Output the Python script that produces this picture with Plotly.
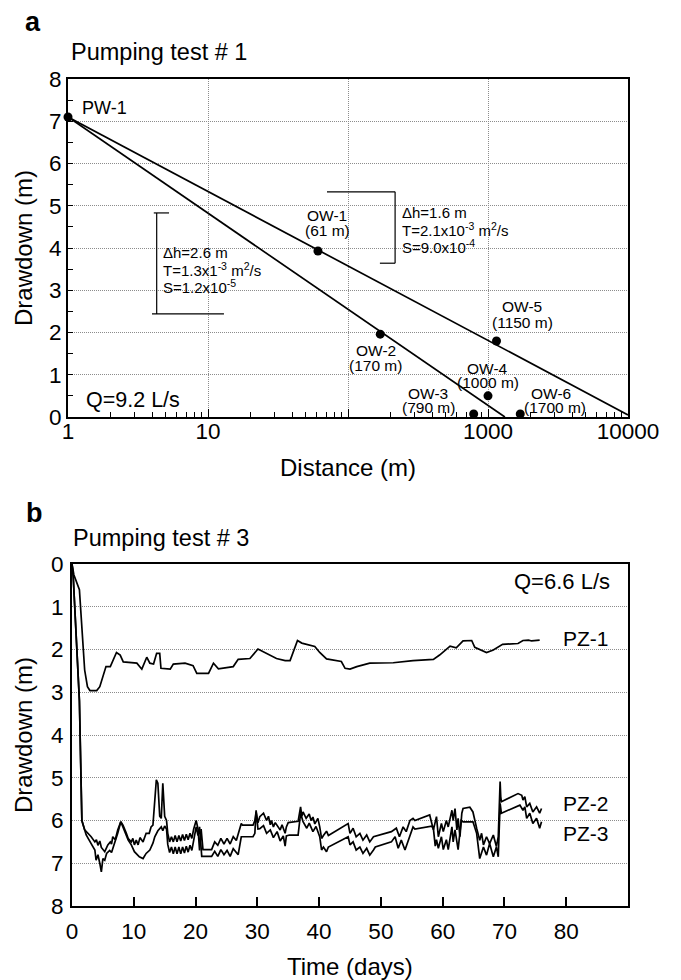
import plotly.graph_objects as go

# page geometry: the html body has an 8px margin, so the figure is placed at (8, 8)
PAGE_W, PAGE_H = 681, 980
OFF = 8
W, H = PAGE_W - OFF, PAGE_H - OFF
FONT = "Liberation Sans, Arial, sans-serif"

# ---------------- Panel a data ----------------
wells = ["PW-1", "OW-1", "OW-2", "OW-3", "OW-4", "OW-5", "OW-6"]
well_dist = [1, 61, 170, 790, 1000, 1150, 1700]
well_dd = [7.1, 3.93, 1.96, 0.07, 0.5, 1.80, 0.07]

fit_upper_x = [1, 10000]
fit_upper_y = [7.1, 0.05]
fit_lower_x = [1, 1320]
fit_lower_y = [7.1, 0.0]

bracket_left_x = [4.1, 5.27, None, 4.3, 4.3, None, 3.98, 13.0]
bracket_left_y = [4.83, 4.83, None, 4.83, 2.44, None, 2.44, 2.44]
bracket_right_x = [70.8, 217, None, 217, 217, None, 169, 217]
bracket_right_y = [5.33, 5.33, None, 5.33, 3.64, None, 3.64, 3.64]

x_tickvals_a = [1, 10, 100, 1000, 10000]
x_ticktext_a = ["1", "10", "", "1000", "10000"]
x_minor_a = [m * 10 ** d for d in range(4) for m in range(2, 10)]

# ---------------- Panel b data ----------------
pz1_day = [0, 0.3, 1.2, 2.05, 2.5, 2.9, 4.0, 4.5, 5.5, 6.2, 7.2, 7.8, 8.3, 9.9, 10.5, 11.3,
           12.1, 12.6, 13.2, 13.7, 14.2, 14.4, 15.9, 16.4, 18.3, 19.6, 20.2, 22.1, 22.9,
           23.7, 26.1, 26.9, 28.8, 30.1, 30.9, 31.7, 33.1, 34.5, 35.3, 36.5, 37.2, 39.3,
           40.1, 41.2, 43.6, 44.2, 45.0, 46.1, 48.2, 52.0, 55.2, 58.5, 59.5, 61.2, 62.2,
           63.3, 64.7, 65.2, 67.1, 68.2, 69.7, 72.2, 73.0, 73.9, 74.4, 75.7]
pz1_dd = [0, 0.25, 0.6, 2.48, 2.87, 2.96, 2.96, 2.87, 2.40, 2.40, 2.07, 2.13, 2.29, 2.30,
          2.32, 2.46, 2.18, 2.32, 2.34, 2.09, 2.09, 2.44, 2.46, 2.34, 2.32, 2.38, 2.56,
          2.56, 2.32, 2.45, 2.40, 2.23, 2.21, 1.99, 2.05, 2.10, 2.21, 2.26, 2.26, 1.79,
          1.85, 1.93, 2.07, 2.22, 2.28, 2.44, 2.46, 2.40, 2.32, 2.31, 2.26, 2.23, 2.13,
          1.92, 1.96, 1.80, 1.79, 1.95, 2.07, 2.01, 1.88, 1.86, 1.79, 1.78, 1.80, 1.78]

pz2_day = [0, 0.2, 1.2, 1.6, 2.05, 2.6, 3.1, 3.7, 3.95, 4.2, 4.5, 4.75, 5.3, 5.8, 6.2, 6.4,
           6.6, 7.0, 7.4, 7.9, 8.25, 8.8, 9.1, 9.6, 9.85, 10.1, 10.4, 10.7, 11.0, 11.5,
           12.0, 12.5, 12.8, 13.1, 13.4, 13.65, 13.9, 14.2, 14.45, 14.7, 15.0, 15.3, 15.5,
           15.8, 16.1, 16.4, 16.7, 17.0, 17.3, 17.6, 17.9, 18.2, 18.5, 18.8, 19.1, 19.4,
           19.7, 20.1, 20.4, 20.65, 20.9, 21.2, 22.6, 23.1, 23.6, 24.1, 24.6, 25.1, 25.6,
           26.1, 26.6, 27.4, 27.6, 29.3, 29.6, 29.8, 30.1, 30.4, 31.0, 31.5, 31.8, 32.1,
           32.3, 32.6, 32.9, 33.4, 33.7, 34.0, 34.5, 34.7, 35.0, 36.6, 37.0, 37.2, 37.4,
           37.9, 38.4, 38.7, 39.0, 39.3, 39.8, 40.1, 40.4, 40.7, 41.2, 41.5, 44.7, 45.0,
           45.5, 46.0, 46.6, 47.1, 47.7, 48.2, 48.8, 51.7, 52.5, 53.0, 53.6, 54.1, 54.7,
           55.2, 55.5, 57.9, 58.5, 59.0, 59.3, 59.8, 60.1, 60.6, 60.9, 61.5, 61.7, 62.0,
           62.3, 62.5, 62.8, 63.1, 63.3, 64.4, 64.9, 65.5, 66.0, 66.3, 66.6, 67.1, 67.6,
           68.2, 68.7, 69.0, 69.3, 69.4, 69.5, 72.2, 72.8, 73.0, 73.3, 73.6, 74.1, 74.6,
           75.2, 75.7, 76.0]
pz2_dd = [0, 0.3, 3.2, 6.0, 6.22, 6.3, 6.38, 6.5, 6.45, 6.58, 6.48, 6.63, 6.73, 6.57, 6.5,
          6.55, 6.38, 6.45, 6.22, 6.03, 6.11, 6.30, 6.42, 6.5, 6.42, 6.57, 6.46, 6.57, 6.4,
          6.5, 6.3, 6.3, 6.15, 6.11, 5.6, 5.05, 5.13, 5.9, 5.95, 5.13, 5.9, 6.0, 6.3, 6.5,
          6.38, 6.5, 6.35, 6.5, 6.35, 6.48, 6.33, 6.47, 6.32, 6.45, 6.3, 6.42, 6.2, 6.0,
          6.2, 6.7, 6.2, 6.68, 6.68, 6.5, 6.58, 6.42, 6.55, 6.42, 6.55, 6.38, 6.47, 6.07,
          6.11, 6.11, 6.0, 5.8, 6.05, 5.91, 5.83, 6.0, 5.9, 6.1, 6.0, 6.15, 6.05, 6.15,
          6.22, 6.1, 6.3, 6.15, 6.05, 6.02, 5.68, 5.9, 5.8, 5.95, 5.85, 6.0, 5.92, 6.08,
          5.95, 6.15, 6.42, 6.35, 6.25, 6.35, 6.07, 6.3, 6.18, 6.38, 6.3, 6.46, 6.34, 6.5,
          6.38, 6.26, 6.18, 6.38, 6.15, 6.26, 6.0, 5.95, 6.0, 5.87, 6.22, 5.91, 6.38, 6.07,
          6.26, 6.0, 6.15, 5.76, 6.0, 5.72, 6.22, 5.95, 6.38, 5.83, 5.72, 5.69, 5.8, 6.18,
          6.46, 6.3, 6.57, 6.38, 6.54, 6.34, 6.61, 6.38, 5.09, 5.44, 5.56, 5.37, 5.41,
          5.52, 5.44, 5.68, 5.6, 5.8, 5.68, 5.83, 5.72]

pz3_day = [0, 0.2, 1.2, 1.6, 1.8, 2.3, 3.1, 3.7, 3.9, 4.2, 4.5, 4.75, 5.0, 5.3, 5.6, 6.1,
           6.4, 6.9, 7.4, 7.9, 8.5, 9.1, 9.6, 10.1, 10.9, 11.5, 12.0, 12.6, 13.1, 13.4,
           13.9, 14.45, 14.7, 15.0, 15.3, 15.5, 15.8, 16.1, 16.4, 16.7, 17.0, 17.3, 17.6,
           17.9, 18.2, 18.5, 18.8, 19.1, 19.4, 19.7, 20.1, 20.4, 20.65, 21.0, 22.6, 23.1,
           23.6, 24.1, 24.6, 25.1, 25.6, 26.1, 26.9, 27.4, 29.3, 29.6, 29.8, 30.1, 30.4,
           31.0, 31.5, 32.1, 32.6, 33.2, 33.7, 34.2, 34.5, 34.7, 35.2, 36.6, 37.0, 37.4,
           38.0, 38.4, 39.0, 39.5, 40.1, 40.4, 40.7, 41.2, 41.5, 44.7, 45.0, 45.5, 46.0,
           46.6, 47.1, 47.7, 48.2, 48.8, 49.1, 51.7, 52.3, 52.8, 53.3, 53.9, 54.4, 54.9,
           55.2, 55.5, 58.2, 58.5, 58.8, 59.0, 59.3, 59.8, 60.1, 60.6, 60.9, 61.5, 61.7,
           62.0, 62.5, 63.0, 63.3, 64.9, 65.5, 66.0, 66.6, 67.1, 67.6, 68.2, 68.7, 69.0,
           69.3, 69.5, 72.5, 73.0, 73.3, 73.6, 74.1, 74.6, 75.2, 75.7, 76.0]
pz3_dd = [0, 0.3, 3.2, 6.0, 6.1, 6.34, 6.54, 6.69, 6.93, 6.8, 7.0, 7.20, 6.89, 6.93, 6.77,
          6.7, 6.75, 6.55, 6.3, 6.03, 6.27, 6.46, 6.57, 6.73, 6.85, 6.89, 6.77, 6.69,
          6.53, 6.38, 6.24, 6.15, 6.24, 6.13, 6.2, 6.56, 6.75, 6.62, 6.78, 6.62, 6.78,
          6.62, 6.78, 6.62, 6.76, 6.6, 6.74, 6.58, 6.7, 6.42, 6.15, 6.35, 6.15, 6.84,
          6.84, 6.72, 6.84, 6.68, 6.8, 6.7, 6.84, 6.66, 6.8, 6.38, 6.38, 6.3, 5.76, 6.2,
          6.19, 6.12, 6.3, 6.22, 6.4, 6.26, 6.48, 6.36, 6.6, 6.36, 6.34, 6.34, 5.83, 6.03,
          6.18, 6.06, 6.26, 6.14, 6.38, 6.69, 6.62, 6.73, 6.62, 6.38, 6.57, 6.5, 6.69,
          6.62, 6.77, 6.65, 6.81, 6.69, 6.62, 6.5, 6.38, 6.65, 6.46, 6.69, 6.5, 6.3, 6.15,
          6.2, 6.13, 6.19, 6.6, 6.45, 6.65, 6.38, 6.68, 6.45, 6.68, 6.15, 6.5, 6.22, 6.68,
          6.0, 6.03, 6.03, 6.3, 6.89, 6.62, 6.81, 6.54, 6.85, 6.62, 6.85, 5.6, 5.83, 5.64,
          5.76, 5.68, 5.95, 5.83, 6.07, 5.95, 6.18, 6.03]

x_tickvals_b = [0, 10, 20, 30, 40, 50, 60, 70, 80]
y_tickvals = [0, 1, 2, 3, 4, 5, 6, 7, 8]

# ---------------- Figure ----------------
LW = 1.7
fig = go.Figure()

line_style = dict(color="black", width=LW)
fig.add_trace(go.Scatter(x=fit_upper_x, y=fit_upper_y, mode="lines", line=line_style,
                         xaxis="x", yaxis="y", showlegend=False, hoverinfo="skip"))
fig.add_trace(go.Scatter(x=fit_lower_x, y=fit_lower_y, mode="lines", line=line_style,
                         xaxis="x", yaxis="y", showlegend=False, hoverinfo="skip"))
fig.add_trace(go.Scatter(x=bracket_left_x, y=bracket_left_y, mode="lines",
                         line=dict(color="black", width=1.2), xaxis="x", yaxis="y",
                         showlegend=False, hoverinfo="skip"))
fig.add_trace(go.Scatter(x=bracket_right_x, y=bracket_right_y, mode="lines",
                         line=dict(color="black", width=1.2), xaxis="x", yaxis="y",
                         showlegend=False, hoverinfo="skip"))
fig.add_trace(go.Scatter(x=well_dist, y=well_dd, mode="markers", text=wells,
                         marker=dict(color="black", size=9), cliponaxis=False,
                         xaxis="x", yaxis="y", showlegend=False))

for d, v, name in [(pz1_day, pz1_dd, "PZ-1"), (pz2_day, pz2_dd, "PZ-2"), (pz3_day, pz3_dd, "PZ-3")]:
    fig.add_trace(go.Scatter(x=d, y=v, mode="lines", name=name, line=line_style,
                             xaxis="x2", yaxis="y2", showlegend=False))


def px(x):
    # page pixel -> paper fraction
    return (x - OFF) / W


def py(y):
    return 1 - (y - OFF) / H


anns = []


def ann(text, x, y, size, xanchor="center", bold=False, angle=0):
    anns.append(dict(text=("<b>%s</b>" % text) if bold else text, x=px(x), y=py(y),
                     xref="paper", yref="paper", xanchor=xanchor, yanchor="middle",
                     showarrow=False, textangle=angle,
                     font=dict(family=FONT, size=size, color="black")))


# panel titles
ann("a", 23, 22, 27, "left", bold=True)
ann("Pumping test # 1", 69, 52, 23.5, "left")
ann("b", 24, 513, 27, "left", bold=True)
ann("Pumping test # 3", 71, 538, 23.5, "left")

# axis titles
ann("Drawdown (m)", 23, 248, 24, angle=-90)
ann("Distance (m)", 348, 468, 24)
ann("Drawdown (m)", 23, 735, 24, angle=-90)
ann("Time (days)", 350, 966, 24)

# panel a labels
ann("PW-1", 80, 108, 18, "left")
ann("OW-1", 327, 215, 15.5)
ann("(61 m)", 327, 230, 15.5)
ann("OW-5", 522, 307, 15.5)
ann("(1150 m)", 522, 322, 15.5)
ann("OW-2", 376, 350, 15.5)
ann("(170 m)", 376, 365, 15.5)
ann("OW-4", 487, 368, 15.5)
ann("(1000 m)", 488, 383, 15.5)
ann("OW-3", 428, 393, 15.5)
ann("(790 m)", 428, 407, 15.5)
ann("OW-6", 551, 393, 15.5)
ann("(1700 m)", 555, 407, 15.5)
ann("Q=9.2 L/s", 84, 400, 21.5, "left")

ann("Δh=2.6 m", 161, 252, 15, "left")
ann("T=1.3x1<sup>-3</sup> m<sup>2</sup>/s", 161, 269, 15, "left")
ann("S=1.2x10<sup>-5</sup>", 161, 287, 15, "left")
ann("Δh=1.6 m", 400, 212, 15, "left")
ann("T=2.1x10<sup>-3</sup> m<sup>2</sup>/s", 400, 229, 15, "left")
ann("S=9.0x10<sup>-4</sup>", 400, 246, 15, "left")

# panel b labels
ann("Q=6.6 L/s", 612, 581, 22, "right")
ann("PZ-1", 561, 638, 21, "left")
ann("PZ-2", 561, 803, 21, "left")
ann("PZ-3", 561, 833, 21, "left")

grid = dict(showgrid=True, gridcolor="#8c8c8c", gridwidth=1, griddash="1px,1px")
axline = dict(showline=True, linecolor="black", linewidth=2, mirror=True, zeroline=False,
              automargin=False)
tickfont = dict(family=FONT, size=22.5, color="black")

fig.update_layout(
    width=W, height=H, autosize=False,
    margin=dict(l=0, r=0, t=0, b=0, pad=0, autoexpand=False),
    paper_bgcolor="white", plot_bgcolor="white",
    font=dict(family=FONT, color="black"),
    annotations=anns,
    xaxis=dict(domain=[px(68), px(628)], anchor="y", type="log", range=[0, 4],
               tickmode="array", tickvals=x_tickvals_a, ticktext=x_ticktext_a,
               ticks="inside", ticklen=8, tickwidth=1.2, tickcolor="black",
               ticklabelstandoff=-7,
               minor=dict(tickmode="array", tickvals=x_minor_a, ticks="inside",
                          ticklen=5, tickwidth=1.2, tickcolor="black", showgrid=False),
               tickfont=tickfont, **grid, **axline),
    yaxis=dict(domain=[py(417), py(79)], anchor="x", range=[0, 8],
               tickmode="array", tickvals=y_tickvals,
               ticks="inside", ticklen=5, tickwidth=1.2, tickcolor="black",
               minor=dict(dtick=0.5, ticks="inside", ticklen=5, tickwidth=1.2,
                          tickcolor="black", showgrid=False),
               tickfont=tickfont, **grid, **axline),
    xaxis2=dict(domain=[px(72), px(628)], anchor="y2", range=[0, 90],
                tickmode="array", tickvals=x_tickvals_b,
                ticks="inside", ticklen=9, tickwidth=1.5, tickcolor="black",
                ticklabelstandoff=4,
                showgrid=False, tickfont=tickfont, **axline),
    yaxis2=dict(domain=[py(906), py(564)], anchor="x2", range=[8, 0],
                tickmode="array", tickvals=y_tickvals, ticks="",
                ticklabelstandoff=2,
                tickfont=tickfont, **grid, **axline),
)

fig.write_html("out.html")
